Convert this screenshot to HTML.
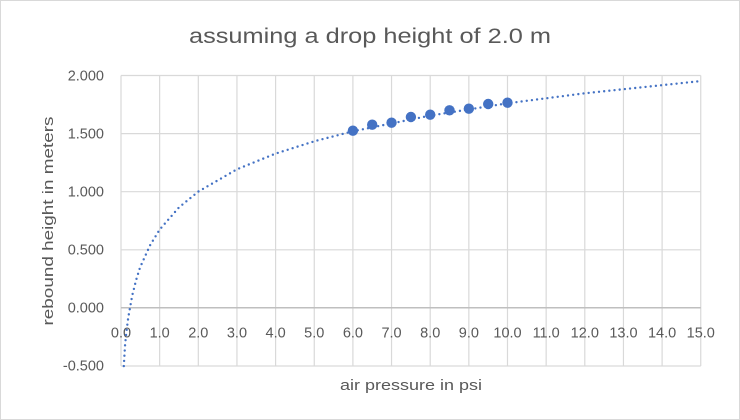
<!DOCTYPE html>
<html><head><meta charset="utf-8"><style>
html,body{margin:0;padding:0;background:#fff}
svg{display:block}
text{font-family:"Liberation Sans",sans-serif;fill:#595959}
</style></head><body>
<svg width="740" height="420" viewBox="0 0 740 420" xmlns="http://www.w3.org/2000/svg">
<rect x="0.5" y="0.5" width="739" height="419" fill="#fff" stroke="#d9d9d9"/>
<text x="370" y="43" font-size="21" text-anchor="middle" textLength="362" lengthAdjust="spacingAndGlyphs">assuming a drop height of 2.0 m</text>
<g stroke="#d9d9d9" stroke-width="1.2">
<line x1="121" y1="75.5" x2="700.75" y2="75.5"/>
<line x1="121" y1="133.6" x2="700.75" y2="133.6"/>
<line x1="121" y1="191.7" x2="700.75" y2="191.7"/>
<line x1="121" y1="249.8" x2="700.75" y2="249.8"/>
<line x1="121" y1="366" x2="700.75" y2="366"/>
<line x1="121" y1="75.5" x2="121" y2="366"/>
<line x1="159.65" y1="75.5" x2="159.65" y2="366"/>
<line x1="198.3" y1="75.5" x2="198.3" y2="366"/>
<line x1="236.95" y1="75.5" x2="236.95" y2="366"/>
<line x1="275.6" y1="75.5" x2="275.6" y2="366"/>
<line x1="314.25" y1="75.5" x2="314.25" y2="366"/>
<line x1="352.9" y1="75.5" x2="352.9" y2="366"/>
<line x1="391.55" y1="75.5" x2="391.55" y2="366"/>
<line x1="430.2" y1="75.5" x2="430.2" y2="366"/>
<line x1="468.85" y1="75.5" x2="468.85" y2="366"/>
<line x1="507.5" y1="75.5" x2="507.5" y2="366"/>
<line x1="546.15" y1="75.5" x2="546.15" y2="366"/>
<line x1="584.8" y1="75.5" x2="584.8" y2="366"/>
<line x1="623.45" y1="75.5" x2="623.45" y2="366"/>
<line x1="662.1" y1="75.5" x2="662.1" y2="366"/>
<line x1="700.75" y1="75.5" x2="700.75" y2="366"/>
</g>
<line x1="121" y1="307.8" x2="700.75" y2="307.8" stroke="#bfbfbf" stroke-width="1.5"/>
<g font-size="14.5" text-anchor="end">
<text x="104" y="80.5">2.000</text>
<text x="104" y="138.5">1.500</text>
<text x="104" y="196.5">1.000</text>
<text x="104" y="254.5">0.500</text>
<text x="104" y="312.5">0.000</text>
<text x="104" y="370.5">-0.500</text>
</g>
<g font-size="14.5" text-anchor="middle">
<text x="121" y="337.5">0.0</text>
<text x="159.65" y="337.5">1.0</text>
<text x="198.3" y="337.5">2.0</text>
<text x="236.95" y="337.5">3.0</text>
<text x="275.6" y="337.5">4.0</text>
<text x="314.25" y="337.5">5.0</text>
<text x="352.9" y="337.5">6.0</text>
<text x="391.55" y="337.5">7.0</text>
<text x="430.2" y="337.5">8.0</text>
<text x="468.85" y="337.5">9.0</text>
<text x="507.5" y="337.5">10.0</text>
<text x="546.15" y="337.5">11.0</text>
<text x="584.8" y="337.5">12.0</text>
<text x="623.45" y="337.5">13.0</text>
<text x="662.1" y="337.5">14.0</text>
<text x="700.75" y="337.5">15.0</text>
</g>
<text x="411" y="390" font-size="15" text-anchor="middle" textLength="142" lengthAdjust="spacingAndGlyphs">air pressure in psi</text>
<text transform="translate(53,221) rotate(-90)" font-size="15" text-anchor="middle" textLength="209" lengthAdjust="spacingAndGlyphs">rebound height in meters</text>
<polyline fill="none" stroke="#4472C4" stroke-width="2.4" stroke-linecap="round" stroke-dasharray="0 5.2"
points="123.8,366.1 125.0,345.9 126.2,333.6 128.2,317.9 132.2,295.6 136.2,279.8 140.0,267.6 150.0,245.4 159.65,229.6 179.0,207.4 198.3,191.6 237.0,169.3 275.6,153.6 314.3,141.3 352.9,131.3 430.2,115.6 507.5,103.3 584.8,93.3 700.75,81.1"/>
<g fill="#4472C4">
<circle cx="352.9" cy="130.7" r="5.2"/>
<circle cx="372.2" cy="124.7" r="5.2"/>
<circle cx="391.55" cy="122.7" r="5.2"/>
<circle cx="410.9" cy="117" r="5.2"/>
<circle cx="430.2" cy="114.7" r="5.2"/>
<circle cx="449.5" cy="110.3" r="5.2"/>
<circle cx="468.85" cy="108.7" r="5.2"/>
<circle cx="488.2" cy="104" r="5.2"/>
<circle cx="507.5" cy="102.7" r="5.2"/>
</g>
</svg>
</body></html>
